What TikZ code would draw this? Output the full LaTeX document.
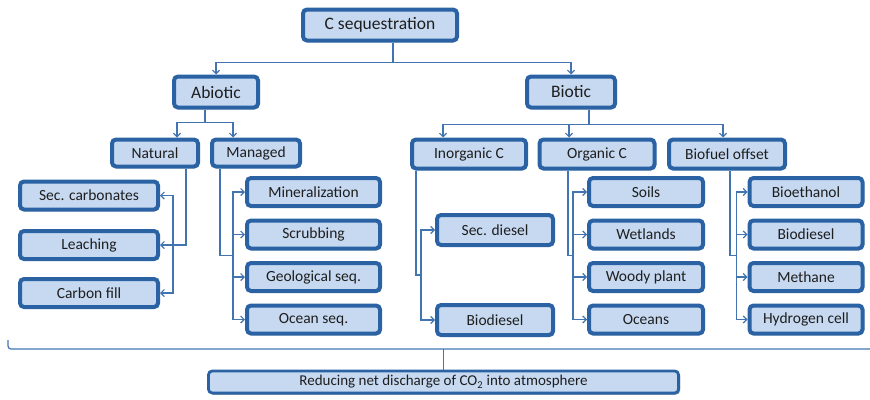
\documentclass[tikz,border=0pt]{standalone}
\usepackage{fontspec}
\setmainfont{Carlito}
\usepackage{tikz}
\usetikzlibrary{shapes.geometric, arrows.meta, shadows}
\definecolor{boxfill}{HTML}{C6D9F1}
\definecolor{boxline}{HTML}{2A62A3}
\definecolor{linkblue}{HTML}{4274B2}
\definecolor{textgrey}{HTML}{1E1E1E}
\tikzstyle{box} = [rectangle, rounded corners=4pt, draw=boxline, line width=4pt, fill=boxfill, text=textgrey, inner sep=1pt, text centered, font=\fontsize{15.5}{18}\selectfont, minimum height=28pt, drop shadow={shadow xshift=1.5pt, shadow yshift=-1.5pt, opacity=0.5, fill=black!75}]
\tikzstyle{topbox} = [box, font=\fontsize{17.5}{20}\selectfont, minimum height=31pt]
\tikzstyle{midbox} = [box, minimum height=27pt]
\tikzstyle{natleaf} = [box, minimum width=138pt]
\tikzstyle{manleaf} = [box, minimum width=133pt]
\tikzstyle{bioleaf} = [box, minimum width=114pt]
\tikzstyle{wide} = [box, line width=2.8pt, minimum width=470.2pt, minimum height=22.2pt, font=\fontsize{15}{17}\selectfont]
\tikzstyle{line} = [draw=linkblue, line width=1.2pt]
\tikzstyle{arrow} = [line, ->, >={Straight Barb[length=3.5pt,width=7pt]}]

\begin{document}
\begin{tikzpicture}[node distance=42.5pt]
\useasboundingbox (0,0) rectangle (870pt,-399pt);

\node (cseq) [topbox, minimum width=154pt] at (380pt,-25pt) {C sequestration};
\node (abiotic) [topbox, minimum width=84pt, below of=cseq, xshift=-164pt, yshift=-24.5pt] {Abiotic};
\node (biotic) [topbox, minimum width=88pt, right of=abiotic, xshift=312.5pt] {Biotic};

\node (natural) [midbox, minimum width=86pt, below of=abiotic, xshift=-61pt, yshift=-18.5pt] {Natural};
\node (managed) [midbox, minimum width=88pt, right of=natural, xshift=58.5pt] {Managed};
\node (inorg) [box, minimum width=114pt, minimum height=29pt, below of=biotic, xshift=-102pt, yshift=-19.5pt] {Inorganic C};
\node (org) [box, minimum width=115pt, minimum height=29pt, right of=inorg, xshift=85.5pt] {Organic C};
\node (biofuel) [box, minimum width=116pt, minimum height=29pt, right of=org, xshift=87.5pt] {Biofuel offset};

\node (seccarb) [natleaf, below of=natural, xshift=-66pt] {Sec. carbonates};
\node (leaching) [natleaf, below of=seccarb, yshift=-7pt] {Leaching};
\node (carbonfill) [natleaf, below of=leaching, yshift=-5.5pt] {Carbon fill};

\node (mineral) [manleaf, below of=managed, xshift=57.5pt, yshift=3.5pt] {Mineralization};
\node (scrub) [manleaf, below of=mineral] {Scrubbing};
\node (geo) [manleaf, below of=scrub] {Geological seq.};
\node (oceanseq) [manleaf, below of=geo] {Ocean seq.};

\node (secdiesel) [box, minimum width=116pt, minimum height=30pt, below of=inorg, xshift=26pt, yshift=-33.5pt] {Sec. diesel};
\node (inbiodiesel) [box, minimum width=116pt, minimum height=30pt, below of=secdiesel, yshift=-47.5pt] {Biodiesel};

\node (soils) [bioleaf, below of=org, xshift=49pt, yshift=4.5pt] {Soils};
\node (wetlands) [bioleaf, below of=soils] {Wetlands};
\node (woody) [bioleaf, below of=wetlands] {Woody plant};
\node (oceans) [bioleaf, below of=woody] {Oceans};

\node (bioeth) [bioleaf, minimum width=113pt, below of=biofuel, xshift=79pt, yshift=4.5pt] {Bioethanol};
\node (fbiodiesel) [bioleaf, minimum width=113pt, below of=bioeth] {Biodiesel};
\node (methane) [bioleaf, minimum width=113pt, below of=fbiodiesel] {Methane};
\node (hydrogen) [bioleaf, minimum width=113pt, below of=methane] {Hydrogen cell};

\node (reduce) [wide, below of=inbiodiesel, xshift=-51.5pt, yshift=-19.5pt] {Reducing net discharge of CO\textsubscript{2} into atmosphere};

% top levels
\draw [arrow] ([xshift=13pt]cseq.south) -- ++(0,-20pt) -| (abiotic.north);
\draw [arrow] ([xshift=13pt]cseq.south) -- ++(0,-20pt) -| (biotic.north);
\draw [arrow] ([xshift=-11pt]abiotic.south) -- ++(0,-13pt) -| ([xshift=22pt]natural.north);
\draw [arrow] ([xshift=-11pt]abiotic.south) -- ++(0,-13pt) -| ([xshift=-23pt]managed.north);
\draw [arrow] ([xshift=18pt]biotic.south) -- ++(0,-15pt) -| ([xshift=-26pt]inorg.north);
\draw [arrow] ([xshift=18pt]biotic.south) -- ++(0,-15pt) -| ([xshift=-28pt]org.north);
\draw [arrow] ([xshift=18pt]biotic.south) -- ++(0,-15pt) -| ([xshift=-4pt]biofuel.north);

% abiotic leaves
\draw [arrow] ([xshift=31pt]natural.south) |- (leaching.east);
\draw [arrow, <->] (seccarb.east) -- ++(13pt,0) |- (carbonfill.east);
\draw [line] ([xshift=-36pt]managed.south) |- ([xshift=-12pt,yshift=-21pt]scrub.west);
\draw [arrow, <->] (mineral.west) -- ++(-12pt,0) |- (oceanseq.west);
\draw [arrow] ([xshift=-12pt]scrub.west) -- (scrub.west);
\draw [arrow] ([xshift=-12pt]geo.west) -- (geo.west);

% biotic leaves
\draw [line] ([xshift=-53pt]inorg.south) |- ([xshift=-14pt,yshift=-45pt]secdiesel.west);
\draw [arrow, <->] (secdiesel.west) -- ++(-14pt,0) |- (inbiodiesel.west);
\draw [line] ([xshift=-29pt]org.south) |- ([xshift=-14pt,yshift=-21pt]wetlands.west);
\draw [arrow, <->] (soils.west) -- ++(-14pt,0) |- (oceans.west);
\draw [arrow] ([xshift=-14pt]wetlands.west) -- (wetlands.west);
\draw [arrow] ([xshift=-14pt]woody.west) -- (woody.west);
\draw [line] ([xshift=3pt]biofuel.south) |- ([xshift=-11pt,yshift=-21pt]fbiodiesel.west);
\draw [arrow, <->] (bioeth.west) -- ++(-11pt,0) |- (hydrogen.west);
\draw [arrow] ([xshift=-11pt]fbiodiesel.west) -- (fbiodiesel.west);
\draw [arrow] ([xshift=-11pt]methane.west) -- (methane.west);

% bracket to the result
\coordinate (brl) at (8pt,-340pt);
\coordinate (brr) at (870pt,-349pt);
\draw [line, rounded corners=3pt] (brl) |- (brr);
\draw [line] (reduce.north) -- (reduce.north |- brr);

\end{tikzpicture}
\end{document}
